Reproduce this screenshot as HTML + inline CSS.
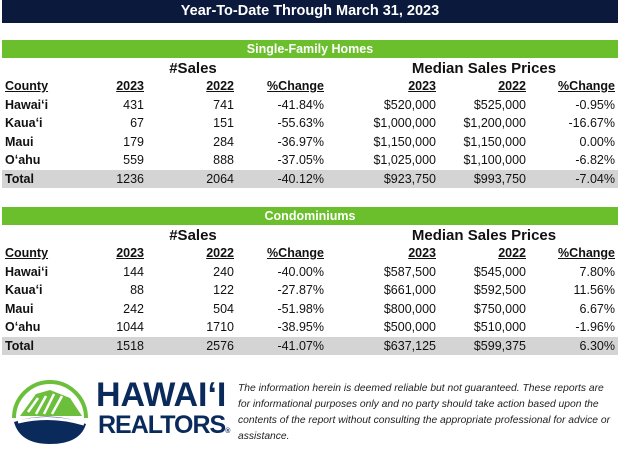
<!DOCTYPE html>
<html><head><meta charset="utf-8"><style>
body{margin:0;width:620px;height:448px;background:#fff;font-family:"Liberation Sans",sans-serif;position:relative;overflow:hidden;color:#111}
.a{position:absolute;white-space:nowrap;line-height:1}
.bar{position:absolute;left:2px;width:616px}
.t{font-size:12.5px}
.b{font-weight:bold}
.r{text-align:right}
.u{text-decoration:underline}
</style></head><body>
<div class="bar" style="top:0;height:23px;background:#0b1a3c"></div>
<div class="a b" style="left:0;width:620px;top:4px;text-align:center;color:#fff;font-size:14.5px">Year-To-Date Through March 31, 2023</div>
<div id="root"></div>
<div style="position:absolute;left:10px;top:376px;width:80px;height:70px">
<svg width="80" height="70" viewBox="0 0 80 70">
<path d="M4 42 A36 36 0 0 1 76 42" fill="none" stroke="#6cbf3a" stroke-width="4"/>
<path d="M10 40 L26 18 L40 14 L60 22 L72 40 Z" fill="#6cbf3a"/>
<path d="M18 36 L28 22 M26 38 L36 20 M34 38 L44 18 M42 38 L52 20" stroke="#fff" stroke-width="2.5"/>
<path d="M4 46 Q40 34 76 48 Q70 68 40 68 Q10 68 4 46 Z" fill="#0b2a5c"/>
<path d="M8 46 Q40 38 74 48" fill="none" stroke="#fff" stroke-width="3"/>
</svg></div>
<div class="a b" style="left:96px;top:378px;font-size:34px;color:#0b2a5c;letter-spacing:0px">HAWAIʻI</div>
<div class="a b" style="left:98px;top:413px;font-size:25px;color:#0b2a5c;letter-spacing:-1px">REALTORS<span style="font-size:7px">®</span></div>
<div class="a" style="left:238px;top:381px;font-size:10.3px;font-style:italic;line-height:16px;white-space:normal;width:376px;color:#222">The information herein is deemed reliable but not guaranteed. These reports are for informational purposes only and no party should take action based upon the contents of the report without consulting the appropriate professional for advice or assistance.</div>
<script>
const counties=["Hawaiʻi","Kauaʻi","Maui","Oʻahu","Total"];
const sfSales23=["431","67","179","559","1236"];
const sfSales22=["741","151","284","888","2064"];
const sfSalesChg=["-41.84%","-55.63%","-36.97%","-37.05%","-40.12%"];
const sfPrice23=["$520,000","$1,000,000","$1,150,000","$1,025,000","$923,750"];
const sfPrice22=["$525,000","$1,200,000","$1,150,000","$1,100,000","$993,750"];
const sfPriceChg=["-0.95%","-16.67%","0.00%","-6.82%","-7.04%"];
const cdSales23=["144","88","242","1044","1518"];
const cdSales22=["240","122","504","1710","2576"];
const cdSalesChg=["-40.00%","-27.87%","-51.98%","-38.95%","-41.07%"];
const cdPrice23=["$587,500","$661,000","$800,000","$500,000","$637,125"];
const cdPrice22=["$545,000","$592,500","$750,000","$510,000","$599,375"];
const cdPriceChg=["7.80%","11.56%","6.67%","-1.96%","6.30%"];
const root=document.getElementById('root');
const rights=[144,234,324,436,526,615];
function txt(s,x,y,cls,right,name){
 const d=document.createElement('div');
 d.className='a t '+cls;
 
 
 d.textContent=s;
 if(right){d.style.right=(620-x)+'px';}else d.style.left=x+'px';
 d.style.top=(y-7)+'px';
 root.appendChild(d);
}
function section(top,title,cols,key){
 const g=document.createElement('div');g.className='bar';
 
 
 g.style.top=top+'px';g.style.height='18px';g.style.background='#6cbf2c';root.appendChild(g);
 const gt=document.createElement('div');gt.className='a b';
 
 
 gt.style.cssText='left:0;width:620px;text-align:center;color:#fff;font-size:12.5px;top:'+(top+3)+'px';
 gt.textContent=title;root.appendChild(gt);
 const tr=document.createElement('div');tr.className='bar';
 
 
 tr.style.top=(top+130)+'px';tr.style.height='18px';tr.style.background='#d4d4d4';root.appendChild(tr);
 const h1=document.createElement('div');h1.className='a b';
 
 
 h1.style.cssText='left:143px;width:100px;text-align:center;font-size:15px;top:'+(top+21)+'px';h1.textContent='#Sales';root.appendChild(h1);
 const h2=document.createElement('div');h2.className='a b';
 
 
 h2.style.cssText='left:384px;width:200px;text-align:center;font-size:15px;top:'+(top+21)+'px';h2.textContent='Median Sales Prices';root.appendChild(h2);
 const hy=top+47;
 txt('County',5,hy,'b u',false,key+'-county-header');
 ['2023','2022','%Change','2023','2022','%Change'].forEach((h,i)=>txt(h,rights[i],hy,'b u',true,key+'-col-header'));
 counties.forEach((c,r)=>{
  const y=top+66+r*18.4;
  txt(c,5,y,'b',false,key+'-county-'+r);
  cols.forEach((arr,i)=>txt(arr[r],rights[i],y,'',true,key+'-cell'));
 });
}
section(40,'Single-Family Homes',[sfSales23,sfSales22,sfSalesChg,sfPrice23,sfPrice22,sfPriceChg],'sf');
section(207,'Condominiums',[cdSales23,cdSales22,cdSalesChg,cdPrice23,cdPrice22,cdPriceChg],'condo');
</script>
</body></html>
